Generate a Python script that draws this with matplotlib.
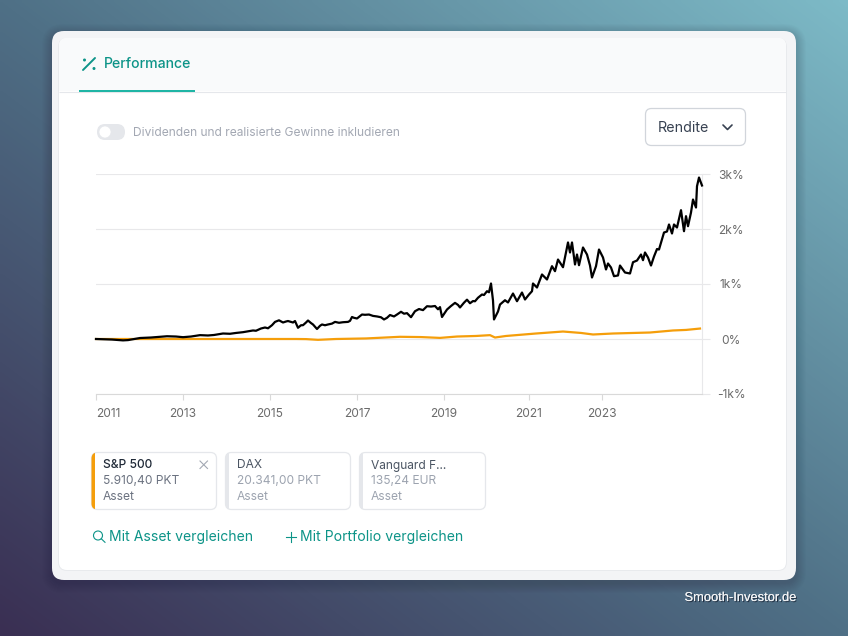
import numpy as np
import matplotlib
matplotlib.use("Agg")
import matplotlib.pyplot as plt
from matplotlib.patches import FancyBboxPatch, Rectangle, Circle
from matplotlib.colors import LinearSegmentedColormap
import matplotlib.patheffects as pe

plt.rcParams['font.family'] = ['Inter', 'DejaVu Sans']

# ---- data (week index since start, return in %) ----
sp_weeks = [0,8,16,27,32,44,55,71,80,87,95,104,112,118,127,134,140,147,152,157,160,165,169,172,176,179,183,187,190,192,197,199,202,205,207,210,212,215,217,221,224,226,229,232,236,239,243,247,252,254,256,258,261,266,269,273,277,281,285,288,291,294,298,301,305,308,311,315,319,323,327,331,335,339,342,344,346,349,351,355,359,362,364,368,371,374,377,379,382,386,388,391,393,395,397,398,402,404,409,412,417,421,426,429,433,436,437,441,446,451,456,459,462,467,472,474,476,479,481,483,487,491,494,496,500,503,507,510,512,515,518,522,524,529,534,537,541,545,547,549,552,555,558,561,563,568,571,573,576,578,581,585,588,590,592,595,597,600,601,603,606]
sp_values = [0,-5,-10,-25,-20,18,27,50,45,33,45,70,64,73,100,95,110,124,140,155,150,191,209,195,251,311,340,300,318,327,300,327,204,250,251,300,336,290,264,182,240,264,250,264,280,311,295,305,311,330,400,385,373,445,440,445,420,410,395,355,385,436,410,445,495,460,470,396,505,545,525,596,590,600,540,580,400,480,536,600,657,620,573,660,715,650,690,686,750,809,800,869,850,1009,700,355,500,627,705,664,827,687,845,718,809,869,1009,936,1173,1082,1324,1233,1445,1305,1755,1573,1755,1355,1536,1342,1664,1536,1336,1118,1324,1627,1482,1264,1373,1300,1142,1155,1336,1209,1191,1396,1427,1536,1433,1573,1482,1336,1500,1636,1627,1936,1955,2082,1918,2082,2027,2342,1960,2233,2051,2300,2536,2391,2778,2936,2791]
ref_weeks = [0,60,120,200,210,222,240,270,304,325,344,361,380,394,399,410,440,467,485,497,517,554,577,590,604]
ref_values = [0,0,0,0,-2,-15,0,10,40,35,20,45,55,70,27,55,100,136,110,82,100,118,155,165,190]

year_labels = ['2011','2013','2015','2017','2019','2021','2023']
year_weeks = [0,86.5,174,261,348,433,506]
y_ticks = [-1000,0,1000,2000,3000]
y_labels = ['-1k%','0%','1k%','2k%','3k%']

W, H = 848, 636
fig = plt.figure(figsize=(W/100, H/100), dpi=100)
bg = fig.add_axes([0,0,1,1]); bg.set_xlim(0,W); bg.set_ylim(H,0); bg.axis('off')
px = 0.72

# gradient background
xx, yy = np.meshgrid(np.linspace(0,1,212), np.linspace(0,1,159))
cmap = LinearSegmentedColormap.from_list('g',[(0,'#3a2f53'),(0.5,'#4f7086'),(1,'#7dbac7')])
bg.imshow((xx+(1-yy))/2, cmap=cmap, vmin=0, vmax=1, extent=(0,W,H,0), aspect='auto', zorder=0, interpolation='bilinear')
bg.set_xlim(0,W); bg.set_ylim(H,0)

def rrect(x0,y0,x1,y1,r,fc,ec='none',lw=0,z=1,alpha=None):
    p = FancyBboxPatch((x0,y0),x1-x0,y1-y0,boxstyle=f"round,pad=0,rounding_size={r}",
                       fc=fc,ec=ec,lw=lw,zorder=z,alpha=alpha)
    bg.add_patch(p); return p

for g in range(10,0,-1):
    rrect(52-g,31-g+3,796+g,580+g+3,12+g,'#101828',z=1,alpha=0.014)
rrect(52,31,796,580,12,'#f3f4f6',z=2)
rrect(58,38,787,571,9,'#9ca3af',z=3,alpha=0.12)
card = rrect(59,38,786,570,8,'white',z=3)
head = Rectangle((59,38),727,53,fc='#f9fafb',ec='none',zorder=4); bg.add_patch(head); head.set_clip_path(card)
bg.plot([59,786],[91.5,91.5],color='#e5e7eb',lw=0.8,zorder=5,solid_capstyle='butt')
bg.add_patch(Rectangle((79,90),116,2,fc='#1fb5a5',ec='none',zorder=6))

def T(x,y,s,size,color,ha='left',weight='normal',**k):
    return bg.text(x,y+1,s,fontsize=size*px,color=color,ha=ha,va='center',fontweight=weight,zorder=8,**k)

teal = '#0d9488'
# tab icon and title
bg.plot([83,95],[70,58],color=teal,lw=1.4,zorder=8,solid_capstyle='round')
bg.add_patch(Circle((84.5,60),1.5,fc=teal,ec='none',zorder=8))
bg.add_patch(Circle((94,68.5),1.5,fc=teal,ec='none',zorder=8))
T(104,63.5,'Performance',14.1,teal,weight='medium')

# toggle
rrect(97,124,125,140,8,'#e5e7eb',z=6)
bg.add_patch(Circle((105,132),6,fc='white',ec='#e5e7eb',lw=0.5,zorder=7))
T(133,131.5,'Dividenden und realisierte Gewinne inkludieren',12,'#a3a8b3')

# dropdown
rrect(645.5,108.5,745.5,145.5,6,'white',ec='#d1d5db',lw=0.9,z=6)
T(658,126.5,'Rendite',14.3,'#374151')
bg.plot([723,727.5,732],[125,129.5,125],color='#374151',lw=1.2,zorder=8,solid_capstyle='round')

# legend cards
cards = [(91,217,'#f59e0b','S&P 500','5.910,40 PKT','Asset','#1f2937','#6b7280'),
         (225,351,'#e5e7eb','DAX','20.341,00 PKT','Asset','#4b5563','#9ca3af'),
         (359,486,'#e5e7eb','Vanguard F…','135,24 EUR','Asset','#4b5563','#9ca3af')]
for x0,x1,bar,a,b,c,c1,c2 in cards:
    cp = rrect(x0+.5,452.5,x1-.5,509.5,6,'white',ec='#e5e7eb',lw=0.9,z=6)
    r = Rectangle((x0,452),4,58,fc=bar,ec='none',zorder=7); bg.add_patch(r); r.set_clip_path(cp)
    T(x0+12,464.5,a,12,c1,weight='medium' if a=='S&P 500' else 'normal')
    T(x0+12,480.5,b,12,c2)
    T(x0+12,496.5,c,12,c2)
bg.plot([200,207.5],[461,468.5],color='#a3a8b3',lw=0.8,zorder=8)
bg.plot([200,207.5],[468.5,461],color='#a3a8b3',lw=0.8,zorder=8)

# links
bg.add_patch(Circle((98,535.5),4.5,fc='none',ec=teal,lw=0.8,zorder=8))
bg.plot([101.3,105],[538.8,542.3],color=teal,lw=0.8,zorder=8)
T(109,535.5,'Mit Asset vergleichen',14,teal)
bg.plot([286,295.5],[536.8,536.8],color=teal,lw=0.8,zorder=8)
bg.plot([290.7,290.7],[532,541.6],color=teal,lw=0.8,zorder=8)
T(300,535.5,'Mit Portfolio vergleichen',14,teal)

# watermark
wm = T(796,597,'Smooth-Investor.de',12.9,'#f3f4f6',ha='right',family=['Liberation Sans'])
wm.set_path_effects([pe.withSimplePatchShadow(offset=(0.8,-0.8),shadow_rgbFace='#111827',alpha=0.7), pe.Normal()])

# chart
ax = fig.add_axes([96/W, 1-394/H, 606/W, 220/H], facecolor='none', zorder=5)
ax.set_xlim(0,606); ax.set_ylim(-1000,3000)
ax.plot(ref_weeks, ref_values, color='#f59e0b', lw=1.6, zorder=3, clip_on=False, solid_joinstyle='round')
ax.plot(sp_weeks, sp_values, color='black', lw=1.6, zorder=4, clip_on=False, solid_joinstyle='round')
ax.yaxis.tick_right()
ax.set_yticks(y_ticks); ax.set_yticklabels(y_labels, ha='center')
ax.tick_params(axis='y', length=8*px, width=0.8, color='#e8e8ea', pad=21*px, labelsize=12*px, labelcolor='#6b6b6b')
ax.grid(axis='y', color='#e8e8ea', lw=0.8, zorder=1)
ax.set_axisbelow(True)
ax.set_xticks(year_weeks); ax.set_xticklabels(year_labels)
ax.get_xticklabels()[0].set_ha('left')
ax.tick_params(axis='x', length=6*px, width=0.8, color='#d9d9d9', pad=8*px, labelsize=12*px, labelcolor='#6b6b6b')
for s in ['top','left']:
    ax.spines[s].set_visible(False)
ax.spines['bottom'].set_color('#d9d9d9'); ax.spines['bottom'].set_linewidth(0.8)
ax.spines['right'].set_color('#e8e8ea'); ax.spines['right'].set_linewidth(0.8)

fig.savefig('out.png', dpi=100)
